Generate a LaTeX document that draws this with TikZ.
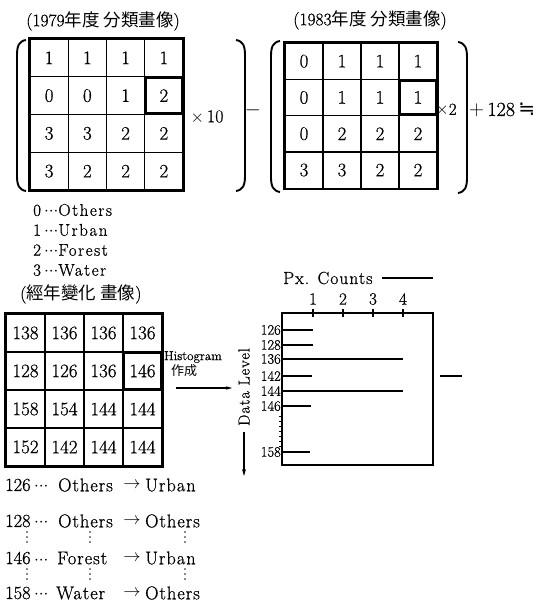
\documentclass[tikz,border=0pt]{standalone}
\usepackage{fontspec}
\setmainfont{Latin Modern Roman}[FakeBold=0.7]
\newfontfamily\cjk{Noto Sans CJK JP}
\newfontfamily\symfont{DejaVu Sans}
\usetikzlibrary{arrows.meta}
\newcommand{\wsp}[1]{{\addfontfeature{LetterSpace=5}#1}}
\newcommand{\lsp}[1]{{\addfontfeature{LetterSpace=9}#1}}
\newcommand{\tdots}{${\cdot}{\cdot}{\cdot}$}
\begin{document}
\begin{tikzpicture}[x=1pt,y=-1pt,
  cellbase/.style={draw, line width=1.3pt, inner sep=0pt, font=\fontsize{19}{19}\selectfont},
  cellA/.style={cellbase, minimum width=38.25pt, minimum height=37.75pt},
  cellB/.style={cellbase, minimum width=38pt, minimum height=36.3pt},
  cellC/.style={cellbase, minimum width=39pt, minimum height=38pt},
  hilite/.style={line width=3pt},
  outer/.style={line width=1.9pt},
  paren/.style={line width=1.9pt},
  title/.style={font=\fontsize{17.5}{17.5}\selectfont, inner sep=0pt},
  legend/.style={font=\fontsize{17}{17}\selectfont, anchor=west, inner sep=0pt},
  btext/.style={font=\fontsize{18.5}{18.5}\selectfont, anchor=west, inner sep=0pt},
  ylab/.style={font=\fontsize{14.5}{14.5}\selectfont, anchor=east, inner sep=1pt},
  tlab/.style={font=\fontsize{17}{17}\selectfont, inner sep=0pt},
  bar/.style={line width=1.4pt},
  arr/.style={font=\fontsize{16}{16}\selectfont, inner sep=0pt},
  vdot/.style={line width=1.5pt, dash pattern=on 0.01pt off 5pt, line cap=round},
]
\useasboundingbox (0,0) rectangle (551,606);

% ---------- titles
\node[title] (t1) at (103,21) {(1979{\cjk 年度 分類畫像})};
\node[title] (t2) at (370,20) {(1983{\cjk 年度 分類畫像})};

% ---------- matrix 1979
\foreach \v [count=\i from 0] in {1,1,1,1,0,0,1,2,3,3,2,2,3,2,2,2} {
  \pgfmathtruncatemacro\cc{mod(\i,4)}
  \pgfmathtruncatemacro\rr{div(\i,4)}
  \node[cellA] (a\i) at ({30+38.25*(\cc+0.5)},{39+37.75*(\rr+0.5)}) {\v};
}
\draw[outer] (a0.north west) rectangle (a15.south east);
\draw[hilite] ([shift={(1.5,1.5)}]a7.north west) rectangle ([shift={(-1.5,-1.5)}]a7.south east);

% ---------- matrix 1983
\foreach \v [count=\i from 0] in {0,1,1,1,0,1,1,1,0,2,2,2,3,3,2,2} {
  \pgfmathtruncatemacro\cc{mod(\i,4)}
  \pgfmathtruncatemacro\rr{div(\i,4)}
  \node[cellB] (b\i) at ({285+38*(\cc+0.5)},{43+36.3*(\rr+0.5)}) {\v};
}
\draw[outer] (b0.north west) rectangle (b15.south east);
\draw[hilite] ([shift={(1.5,1.5)}]b7.north west) rectangle ([shift={(-1.5,-1.5)}]b7.south east);

% ---------- brackets
\draw[paren] (26,40) .. controls (19,41) and (17,46) .. (17,55) -- (17,176) .. controls (17,185) and (19,190) .. (26,191);
\draw[paren] (236,40) .. controls (243,41) and (245,46) .. (245,55) -- (245,176) .. controls (245,185) and (243,190) .. (236,191);
\draw[paren] (280,41) .. controls (273,42) and (271,47) .. (271,56) -- (271,177) .. controls (271,186) and (273,191) .. (280,192);
\draw[paren] (458,42) .. controls (465,43) and (467,48) .. (467,57) -- (467,178) .. controls (467,187) and (465,192) .. (458,193);

% ---------- operators
\node[inner sep=0pt, font=\fontsize{18}{18}\selectfont] (x10) at (207,117) {$\times$\,10};
\node[inner sep=0pt, font=\fontsize{20}{20}\selectfont] (minus) at (253,110) {$-$};
\node[inner sep=0pt, font=\fontsize{17}{17}\selectfont] (x2) at (446,110) {$\times$2};
\node[inner sep=0pt, anchor=west, font=\fontsize{20}{20}\selectfont] (plus) at (469,110) {$+$\,128\,{\symfont ≒}};

% ---------- legend
\node[legend] (l0) at (33,210) {0\hspace{3pt}\tdots\lsp{Others}};
\node[legend] (l1) at (33,230) {1\hspace{3pt}\tdots\lsp{Urban}};
\node[legend] (l2) at (33,250) {2\hspace{3pt}\tdots\lsp{Forest}};
\node[legend] (l3) at (33,270) {3\hspace{3pt}\tdots\lsp{Water}};
\node[title, anchor=west] (t3) at (20,294) {({\cjk 經年變化 畫像})};

% ---------- matrix change
\foreach \v [count=\i from 0] in {138,136,136,136,128,126,136,146,158,154,144,144,152,142,144,144} {
  \pgfmathtruncatemacro\cc{mod(\i,4)}
  \pgfmathtruncatemacro\rr{div(\i,4)}
  \node[cellC] (c\i) at ({6+39*(\cc+0.5)},{314+38*(\rr+0.5)}) {\v};
}
\draw[outer] (c0.north west) rectangle (c15.south east);
\draw[hilite] ([shift={(1.5,1.5)}]c7.north west) rectangle ([shift={(-1.5,-1.5)}]c7.south east);

% ---------- histogram arrow
\node[inner sep=0pt, font=\fontsize{13}{13}\selectfont] (histo) at (193,357) {Histogram};
\node[inner sep=0pt, font=\fontsize{13}{13}\selectfont\cjk] (sakusei) at (184,371) {作成};
\coordinate (ha) at (176,388);
\coordinate (hb) at (232,388);
\draw[line width=1.3pt, -{Stealth[length=6pt,width=3.5pt]}] (ha) -- (hb);

% ---------- histogram box
\draw[line width=1.9pt] (282,313) rectangle (433,465);
\node[inner sep=0pt, anchor=west, font=\fontsize{17.5}{17.5}\selectfont\addfontfeature{LetterSpace=6}] (pxc) at (283,278) {Px. Counts};
\coordinate (pa) at (382,278);
\coordinate (pb) at (433,278);
\draw[line width=1.3pt] (pa) -- (pb);
\foreach \n/\x in {1/313,2/343,3/373,4/403} {
  \draw[line width=1.3pt] (\x,309) -- (\x,317);
  \node[tlab] (tk\n) at (\x,299) {\n};
}
\foreach \v/\y/\len in {126/330/313,128/345/313,136/359/403,142/376/312,144/391/403,146/406/311,158/452/310} {
  \node[ylab] (yl\v) at (282,\y) {\v};
  \draw[bar] (282,\y) -- (\len,\y);
}
\foreach \y in {416,421,426,431,436,441,446} {
  \draw[line width=0.9pt] (279,\y) -- (282,\y);
}
\node[rotate=90, inner sep=0pt, font=\fontsize{16}{16}\selectfont\addfontfeature{LetterSpace=6}] (dl) at (244,387) {Data Level};
\coordinate (da) at (244,432);
\coordinate (db) at (244,476);
\draw[line width=1.5pt, -{Stealth[length=7pt,width=4pt]}] (da) -- (db);
\coordinate (ra) at (440,376);
\coordinate (rb) at (462,376);
\draw[line width=1.7pt] (ra) -- (rb);

% ---------- bottom list
\node[btext] (n126) at (5,485) {126\hspace{3.5pt}\tdots};
\node[btext] (f126) at (58,485) {\wsp{Others}};
\node[arr] (a126) at (132,485) {$\rightarrow$};
\node[btext] (g126) at (145,485) {\wsp{Urban}};

\node[btext] (n128) at (5,521) {128\hspace{3.5pt}\tdots};
\node[btext] (f128) at (58,521) {\wsp{Others}};
\node[arr] (a128) at (132,521) {$\rightarrow$};
\node[btext] (g128) at (145,521) {\wsp{Others}};

\node[btext] (n146) at (5,558) {146\hspace{3.5pt}\tdots};
\node[btext] (f146) at (57,558) {\wsp{Forest}};
\node[arr] (a146) at (132,558) {$\rightarrow$};
\node[btext] (g146) at (145,558) {\wsp{Urban}};

\node[btext] (n158) at (5,593) {158\hspace{3.5pt}\tdots};
\node[btext] (f158) at (56,593) {\wsp{Water}};
\node[arr] (a158) at (132,593) {$\rightarrow$};
\node[btext] (g158) at (145,593) {\wsp{Others}};

\foreach \x in {27,90,185} {
  \draw[vdot] (\x,532) -- (\x,547);
  \draw[vdot] (\x,569) -- (\x,584);
}
\end{tikzpicture}
\end{document}
